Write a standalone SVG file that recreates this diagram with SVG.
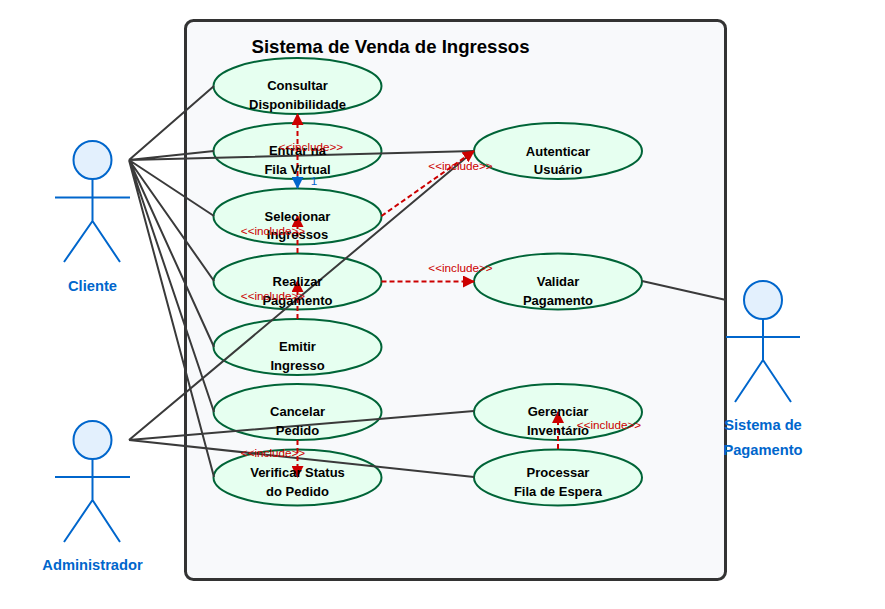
<svg xmlns="http://www.w3.org/2000/svg" width="885" height="609" viewBox="0 0 885 609">
<style>
text{font-family:"Liberation Sans",Arial,sans-serif;text-anchor:middle}
.uc ellipse{fill:#e6fff0;stroke:#006437;stroke-width:2}
.uc text{font-size:13px;font-weight:700;fill:#000}
.actor circle{fill:#e3f0fd;stroke:#0066cc;stroke-width:2}
.actor path{fill:none;stroke:#0066cc;stroke-width:2}
.actor text{font-size:14.700px;font-weight:700;fill:#0066cc}
.assoc{fill:none;stroke:#3a3a3a;stroke-width:2}
.inc{fill:none;stroke:#cc0000;stroke-width:2;stroke-dasharray:5 3;marker-end:url(#ah)}
.lbl{font-size:11.700px;fill:#cc0000}
</style>
<defs>
<marker id="ah" markerWidth="12" markerHeight="12" refX="11" refY="6" orient="auto" markerUnits="userSpaceOnUse" viewBox="0 0 12 12"><path d="M0 0L12 6L0 12Z" fill="#cc0000"/></marker>
<marker id="ahb" markerWidth="12" markerHeight="12" refX="11" refY="6" orient="auto" markerUnits="userSpaceOnUse" viewBox="0 0 12 12"><path d="M0 0L12 6L0 12Z" fill="#0066cc"/></marker>
</defs>
<rect id="boundary" x="185.500" y="20.500" width="540" height="559" rx="8" fill="#f8f9fb" stroke="#333" stroke-width="3"/>
<text x="390.500" y="53" style="font-size:18.600px;font-weight:700;fill:#000">Sistema de Venda de Ingressos</text>
<g id="uc1" class="uc"><ellipse cx="297.500" cy="86" rx="84" ry="28"/></g>
<g id="uc2" class="uc"><ellipse cx="297.500" cy="151" rx="84" ry="28"/></g>
<g id="uc3" class="uc"><ellipse cx="297.500" cy="216.500" rx="84" ry="28"/></g>
<g id="uc4" class="uc"><ellipse cx="297.500" cy="281.500" rx="84" ry="28"/></g>
<g id="uc5" class="uc"><ellipse cx="297.500" cy="347" rx="84" ry="28"/></g>
<g id="uc6" class="uc"><ellipse cx="297.500" cy="412" rx="84" ry="28"/></g>
<g id="uc7" class="uc"><ellipse cx="297.500" cy="477.500" rx="84" ry="28"/></g>
<g id="uc8" class="uc"><ellipse cx="558" cy="151" rx="84" ry="28"/></g>
<g id="uc9" class="uc"><ellipse cx="558" cy="281.500" rx="84" ry="28"/></g>
<g id="uc10" class="uc"><ellipse cx="558" cy="412" rx="84" ry="28"/></g>
<g id="uc11" class="uc"><ellipse cx="558" cy="477.500" rx="84" ry="28"/></g>
<g id="connectors">
<path class="assoc" d="M129 160L214 86M129 160L214 151M129 160L474 151M129 160L214 216M129 160L214 281M129 160L214 347M129 160L214 412M129 160L214 477"/>
<path class="assoc" d="M129 440L474 151M129 440L474 411M129 440L474 477M642 281L726 300"/>
<path d="M297.500 176V188" fill="none" stroke="#0066cc" stroke-width="2" marker-end="url(#ahb)"/>
<path class="inc" d="M297.500 176V114"/>
<path class="inc" d="M297.500 253V216"/>
<path class="inc" d="M297.500 319V281"/>
<path class="inc" d="M297.500 440V477"/>
<path class="inc" d="M381.500 216L474 151"/>
<path class="inc" d="M381.500 281.500H474"/>
<path class="inc" d="M558 449V412"/>
</g>
<g class="uc">
<text x="297.500" y="90">Consultar</text><text x="297.500" y="109">Disponibilidade</text>
<text x="297.500" y="155">Entrar na</text><text x="297.500" y="174">Fila Virtual</text>
<text x="297.500" y="221">Selecionar</text><text x="297.500" y="239">Ingressos</text>
<text x="297.500" y="286">Realizar</text><text x="297.500" y="305">Pagamento</text>
<text x="297.500" y="351">Emitir</text><text x="297.500" y="370">Ingresso</text>
<text x="297.500" y="416">Cancelar</text><text x="297.500" y="435">Pedido</text>
<text x="297.500" y="477">Verificar Status</text><text x="297.500" y="496">do Pedido</text>
<text x="558" y="156">Autenticar</text><text x="558" y="174">Usuário</text>
<text x="558" y="286">Validar</text><text x="558" y="305">Pagamento</text>
<text x="558" y="416">Gerenciar</text><text x="558" y="435">Inventário</text>
<text x="558" y="477">Processar</text><text x="558" y="496">Fila de Espera</text>
</g>
<g id="edge-labels">
<text class="lbl" x="311" y="151">&lt;&lt;include&gt;&gt;</text>
<text class="lbl" x="273" y="235">&lt;&lt;include&gt;&gt;</text>
<text class="lbl" x="273" y="300">&lt;&lt;include&gt;&gt;</text>
<text class="lbl" x="273" y="457">&lt;&lt;include&gt;&gt;</text>
<text class="lbl" x="460.500" y="170">&lt;&lt;include&gt;&gt;</text>
<text class="lbl" x="460.500" y="272">&lt;&lt;include&gt;&gt;</text>
<text class="lbl" x="609" y="429">&lt;&lt;include&gt;&gt;</text>
<text x="314" y="185" style="font-size:11.700px;fill:#0066cc">1</text>
</g>
<g id="actor-cliente" class="actor"><circle cx="92.500" cy="160" r="19"/><path d="M92.500 179V221M55 197.500H130M92.500 221L64 262M92.500 221L120 262"/><text x="92.500" y="291">Cliente</text></g>
<g id="actor-admin" class="actor"><circle cx="92.500" cy="440" r="19"/><path d="M92.500 459V500M55 477H130M92.500 500L64 542M92.500 500L120 542"/><text x="92.500" y="570">Administrador</text></g>
<g id="actor-pagamento" class="actor"><circle cx="763" cy="300" r="19"/><path d="M763 319V360M726 337H800M763 360L735 402M763 360L791 402"/><text x="763" y="430">Sistema de</text><text x="763" y="455">Pagamento</text></g>
</svg>
